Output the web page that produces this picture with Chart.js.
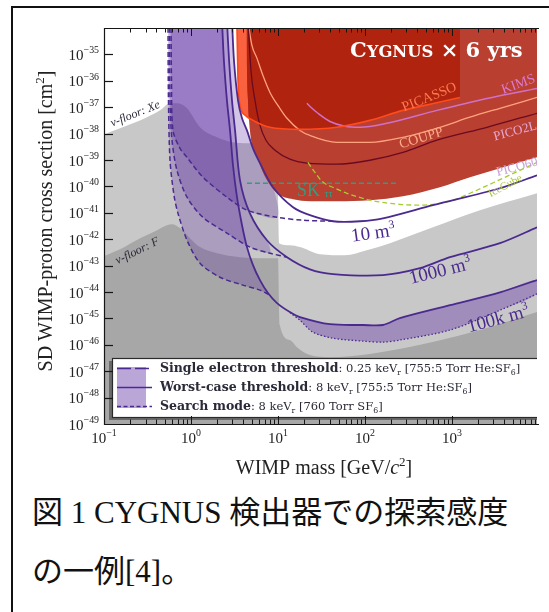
<!DOCTYPE html>
<html lang="ja"><head><meta charset="utf-8">
<script src="https://cdn.jsdelivr.net/npm/chart.js@4.4.1/dist/chart.umd.min.js"></script>
<style>
html,body{margin:0;padding:0;background:#fff;}
body{width:549px;height:612px;position:relative;overflow:hidden;}
#frame{position:absolute;left:11px;top:6px;width:620px;height:700px;border-top:2px solid #111;border-left:2px solid #111;box-sizing:border-box;}
#c{position:absolute;left:0;top:0;display:block;}
.cap{position:absolute;left:32px;margin:0;font-family:"Liberation Serif","Noto Sans CJK JP",serif;font-size:31px;line-height:31px;white-space:nowrap;color:#111;}
</style></head><body>
<div id="frame"></div>
<canvas id="c" width="549" height="490"></canvas>
<div class="cap" style="top:497px">図 1 CYGNUS 検出器での探索感度</div>
<div class="cap" style="top:556px">の一例[4]。</div>
<script>
// ---------- axis ranges / ticks ----------
const massRange = [0.1, 9500];                 // GeV/c^2 (figure is cropped at the right)
const sigmaRangeExp = [-49, -34];              // log10(cross section / cm^2)
const xTickDecades = [-1, 0, 1, 2, 3];
const yTickDecades = [-49, -48, -47, -46, -45, -44, -43, -42, -41, -40, -39, -38, -37, -36, -35];
const xTitleText = ['WIMP mass [GeV/', 'c', '2', ']'];
const yTitleText = ['SD WIMP-proton cross section [cm', '2', ']'];

// ---------- data: [mass GeV, log10 sigma(cm^2)] ----------
const xenonFloor = [[0.1,-38.03],[0.153,-37.80],[0.215,-37.61],[0.312,-37.38],[0.441,-37.12],[0.574,-36.85],[0.69,-36.85],[0.90,-37.04],[1.27,-37.76],[1.99,-38.14],[3.04,-38.33],[4.4,-38.37],[9.75,-38.37],[10.3,-42.15],[13.7,-42.23],[17.9,-42.30],[30.4,-42.57],[58.9,-42.61],[105,-42.42],[194,-42.15],[605,-41.55],[2100,-40.90],[9500,-40.26]];
const fluorineFloor = [[0.1,-42.64],[0.153,-42.38],[0.26,-41.96],[0.386,-41.70],[0.53,-41.47],[0.605,-41.43],[0.748,-41.58],[0.974,-41.96],[1.27,-42.30],[1.99,-42.53],[3.66,-42.68],[6.21,-42.72],[10.0,-42.72],[10.5,-45.25],[13.7,-45.82],[16.5,-46.09],[23.3,-46.39],[39.6,-46.47],[114,-46.35],[673,-45.86],[2100,-45.44],[9500,-44.76]];

const picassoLimit = [[3.36,-33.5],[3.47,-35.98],[3.66,-36.93],[4.18,-37.30],[5.44,-37.54],[8.09,-37.76],[17.9,-37.84],[47.6,-37.76],[114,-37.50],[273,-37.12],[559,-36.89],[1236,-36.63]];
const excludedEdge = [[4.35,-33.5],[4.40,-35.5],[4.52,-36.74],[4.76,-37.88],[5.16,-38.56],[5.74,-38.90],[6.55,-39.39],[7.47,-39.77],[9.75,-40.26],[14.9,-40.49],[23.3,-40.56],[47.6,-40.56],[114,-40.52],[273,-40.37],[728,-40.03],[1611,-39.65],[3565,-39.31],[9500,-38.90]];
const overlapEdge = [[4.35,-33.5],[4.40,-35.5],[4.52,-36.74],[4.62,-37.38],[5.44,-37.54],[8.09,-37.76],[17.9,-37.84],[47.6,-37.76],[114,-37.50],[273,-37.12],[559,-36.89],[1236,-36.63]];
const couppLimit = [[4.45,-33.6],[5.02,-34.66],[5.74,-35.15],[6.72,-35.80],[8.09,-36.44],[10.5,-37.04],[12.7,-37.42],[17.9,-37.88],[23.3,-38.07],[47.6,-38.33],[114,-38.33],[273,-38.14],[728,-37.76],[1611,-37.38],[3565,-37.04],[9500,-36.63]];
const kimsLimit = [[21.5,-36.85],[24.6,-37.04],[28.8,-37.23],[39.6,-37.54],[58.9,-37.72],[87.8,-37.76],[179,-37.61],[673,-37.12],[2524,-36.67],[9500,-36.29]];
const pico2lLimit = [[4.52,-33.7],[4.89,-35.61],[5.44,-36.74],[6.21,-37.69],[7.28,-38.25],[9.24,-38.63],[13.7,-38.97],[21.5,-39.12],[47.6,-39.16],[114,-39.01],[273,-38.71],[673,-38.25],[2524,-37.76],[9500,-37.23]];
const skTauTau = [[4.4,-39.88],[239,-39.88]];
const iceCube = [[22.1,-39.09],[26.6,-39.47],[32.1,-39.81],[45.2,-40.07],[62.1,-40.26],[114,-40.52],[252,-40.68],[429,-40.71],[949,-40.56],[1611,-40.26],[3855,-39.69],[9500,-39.09]];

const solid10 = [[2.96,-33.7],[3.12,-35.23],[3.47,-36.74],[3.86,-37.42],[4.40,-37.88],[5.16,-38.56],[6.21,-39.12],[8.77,-40.03],[14.9,-40.79],[23.3,-41.09],[42.9,-41.32],[87.8,-41.32],[161,-41.21],[605,-40.71],[3565,-40.07],[9500,-39.58]];
const solid1000 = [[2.59,-33.7],[2.74,-35.23],[2.96,-36.74],[3.21,-37.88],[3.66,-39.77],[4.76,-41.02],[7.47,-42.04],[12.7,-42.68],[23.3,-43.14],[42.9,-43.32],[161,-43.36],[429,-43.10],[949,-42.68],[3565,-42.15],[9500,-41.55]];
const solid100k = [[2.27,-33.7],[2.39,-35.23],[2.59,-36.74],[2.81,-37.88],[3.04,-39.20],[3.38,-40.41],[3.86,-41.47],[4.40,-42.30],[5.16,-42.98],[6.21,-43.55],[7.67,-44.04],[9.75,-44.42],[13.7,-44.76],[17.9,-44.95],[39.6,-45.22],[94.9,-45.25],[161,-45.25],[252,-44.99],[949,-44.50],[3565,-44.01],[9500,-43.55]];
const dashed10 = [[0.589,-33.7],[0.597,-35.98],[0.621,-37.88],[0.748,-38.56],[0.90,-38.90],[1.37,-39.65],[2.59,-40.41],[4.40,-40.90],[9.75,-41.17],[19.4,-41.28],[42.9,-41.32]];
const dashed1000 = [[0.567,-33.7],[0.574,-36.74],[0.605,-38.25],[0.690,-39.39],[0.90,-40.41],[1.37,-41.17],[2.59,-41.77],[4.76,-42.30],[8.09,-42.53],[12.7,-42.68]];
const dashed100k = [[0.544,-33.7],[0.551,-36.74],[0.574,-39.01],[0.638,-40.34],[0.709,-41.02],[0.90,-42.04],[1.27,-42.91],[2.15,-43.44],[3.96,-43.74],[6.21,-43.93],[8.09,-44.12]];
const search100k = [[13.7,-44.78],[17.9,-45.07],[25.2,-45.52],[42.9,-45.75],[94.9,-45.86],[161,-45.90],[252,-45.82],[949,-45.44],[3565,-44.69],[9500,-44.07]];
const bandShadeLimit = 10;   // GeV: low-mass threshold bands are shaded up to here

// ---------- text ----------
const legendNames = ['Single electron threshold', 'Worst-case threshold', 'Search mode'];
const legendDetails = [
  [': 0.25 keV', 'r', ' [755:5 Torr He:SF', '6', ']'],
  [': 8 keV', 'r', ' [755:5 Torr He:SF', '6', ']'],
  [': 8 keV', 'r', ' [760 Torr SF', '6', ']']
];
const purple = '#4b2a8f';
const supP = t => ({t, s: 0.62, dy: -0.42});
const plotLabels = [
  {parts:[{t:'C'},{t:'YGNUS',s:0.78},{t:' × 6 yrs'}], at:[67.3,-35.11], size:21, fam:'DejaVu Serif', style:'bold', color:'#ffffff', align:'left'},
  {parts:[{t:'PICASSO'}], at:[545,-36.59], rot:-22, size:14, color:'#ff7a50', align:'center'},
  {parts:[{t:'COUPP'}], at:[441,-38.14], rot:-17, size:14, color:'#ffab8a', align:'center'},
  {parts:[{t:'KIMS'}], at:[5740,-36.10], rot:-20, size:14, color:'#dc7ad2', align:'center'},
  {parts:[{t:'PICO2L'}], at:[5300,-37.88], rot:-15, size:13, color:'#e6a8d6', align:'center'},
  {parts:[{t:'PICO60'}], at:[5580,-39.24], rot:-15, size:13, color:'#c9a2da', align:'center'},
  {parts:[{t:'SK '},{t:'ττ',s:0.58,dy:0.02}], at:[16.5,-40.37], size:18, color:'#2f9e80', align:'left'},
  {parts:[{t:'IceCube'}], at:[4060,-39.96], rot:-28, size:11, color:'#a6c92e', align:'center'},
  {parts:[{t:'10 m'},supP('3')], at:[124,-41.74], rot:-8, size:19, color:purple, align:'center'},
  {parts:[{t:'1000 m'},supP('3')], at:[728,-43.17], rot:-14, size:19, color:purple, align:'center'},
  {parts:[{t:'100k m'},supP('3')], at:[3380,-44.99], rot:-15, size:19, color:purple, align:'center'},
  {parts:[{t:'ν-floor: Xe'}], at:[0.227,-37.23], rot:-22, size:12, style:'italic', color:'#2a2a3a', align:'center'},
  {parts:[{t:'ν-floor: F'}], at:[0.239,-42.42], rot:-26, size:12, style:'italic', color:'#2a2a3a', align:'center'}
];

// ---------- dataset building ----------
const P = arr => arr.map(([m, e]) => ({x: m, y: Math.pow(10, e)}));
function areaSet(data, color, fill, order, mono) {
  return {data: P(data), backgroundColor: color, borderColor: 'rgba(0,0,0,0)', borderWidth: 0, fill, order,
    pointRadius: 0, cubicInterpolationMode: mono ? 'monotone' : 'default', tension: 0.3};
}
function lineSet(data, color, width, dash, order, mono) {
  return {data: P(data), borderColor: color, backgroundColor: color, borderWidth: width, borderDash: dash || [], fill: false, order,
    pointRadius: 0, cubicInterpolationMode: mono ? 'monotone' : 'default', tension: 0.3};
}
function bandBetween(dashed, solid) {
  const d = dashed.filter(p => p[0] <= bandShadeLimit);
  const lastX = d[d.length - 1][0];
  return d.concat(solid.filter(p => p[0] < lastX).reverse());
}
const band10 = bandBetween(dashed10, solid10);
const band1000 = bandBetween(dashed1000, solid1000);
const band100k = bandBetween(dashed100k, solid100k);
const searchBand = solid100k.filter(p => p[0] >= search100k[0][0]).concat(search100k.slice().reverse());
const bandColor = 'rgba(90,40,160,0.27)';

const datasets = [
  areaSet(xenonFloor, '#c8c8c8', 'start', 100, true),
  areaSet(fluorineFloor, '#a7a7a7', 'start', 99, true),
  areaSet(band100k, bandColor, 'shape', 96, false),
  areaSet(band1000, bandColor, 'shape', 95, false),
  areaSet(band10, bandColor, 'shape', 94, false),
  areaSet(searchBand, 'rgba(105,60,170,0.42)', 'shape', 93, false),
  areaSet(picassoLimit, '#f9613f', 'end', 90, true),
  areaSet(excludedEdge, '#b93f30', 'end', 89, true),
  areaSet(overlapEdge, '#b0230f', 'end', 88, true),
  lineSet(couppLimit, '#ffa27e', 1.3, null, 50, true),
  lineSet(kimsLimit, '#d070c8', 1.5, null, 49, true),
  lineSet(pico2lLimit, '#6a0a22', 1.3, null, 48, true),
  lineSet(picassoLimit, '#ff4a1a', 1.6, null, 47, true),
  lineSet(skTauTau, '#2f9e80', 1.3, [5, 3], 46, true),
  lineSet(iceCube, '#a5cc2e', 1.3, [5, 3], 45, true),
  lineSet(search100k, purple, 1.3, [1.5, 2], 13, false),
  lineSet(dashed10, purple, 1.5, [5, 3], 12, false),
  lineSet(dashed1000, purple, 1.5, [5, 3], 12, false),
  lineSet(dashed100k, purple, 1.5, [5, 3], 12, false),
  lineSet(solid10, purple, 1.8, null, 11, false),
  lineSet(solid1000, purple, 1.8, null, 11, false),
  lineSet(solid100k, purple, 1.8, null, 11, false)
];

// ---------- drawing helpers ----------
function rich(ctx, parts, x, y, o) {
  const fam = o.fam || 'Liberation Serif';
  const fontOf = p => (`${p.style !== undefined ? p.style : (o.style || '')} ${(o.size * (p.s || 1)).toFixed(2)}px "${p.fam || fam}"`).trim();
  let w = 0;
  for (const p of parts) { ctx.font = fontOf(p); w += ctx.measureText(p.t).width; }
  ctx.save();
  ctx.translate(x, y);
  if (o.rot) ctx.rotate(o.rot * Math.PI / 180);
  ctx.fillStyle = o.color || '#222';
  ctx.textAlign = 'left'; ctx.textBaseline = 'alphabetic';
  let cx = o.align === 'center' ? -w / 2 : (o.align === 'right' ? -w : 0);
  const by = (o.align === 'center' && !o.baseline) ? o.size * 0.34 : 0;
  for (const p of parts) {
    ctx.font = fontOf(p);
    ctx.fillText(p.t, cx, by + (p.dy || 0) * o.size);
    cx += ctx.measureText(p.t).width;
  }
  ctx.restore();
  return w;
}
const expStr = d => (d < 0 ? '\u2212' + (-d) : String(d));

function drawLegend(ctx, a) {
  const L = a.left + 8, T = a.top + 330, B = a.bottom - 7, R = a.right + 30;
  ctx.save();
  ctx.fillStyle = '#6a6a6a';
  ctx.fillRect(L - 3, T + 3, R - L, B - T);
  ctx.fillStyle = '#ffffff';
  ctx.fillRect(L, T, R - L, B - T);
  ctx.strokeStyle = '#2a2a2a'; ctx.lineWidth = 1.2;
  ctx.strokeRect(L + 0.5, T + 0.5, R - L, B - T);
  ctx.fillStyle = '#bba6d8';
  ctx.fillRect(L + 5, T + 9, 29, 41);
  const dashes = [[14, 4], [], [4, 2.5]];
  legendNames.forEach((name, i) => {
    const yy = T + 10 + i * 19;
    ctx.setLineDash(dashes[i]);
    ctx.strokeStyle = purple; ctx.lineWidth = 1.6;
    ctx.beginPath(); ctx.moveTo(L + 5, yy + 0.5); ctx.lineTo(L + 40, yy + 0.5); ctx.stroke();
    ctx.setLineDash([]);
    const d = legendDetails[i];
    rich(ctx, [
      {t: name, style: 'bold'},
      {t: d[0], style: '', s: 0.92},
      {t: d[1], style: '', s: 0.62, dy: 0.22},
      {t: d[2], style: '', s: 0.92},
      {t: d[3], style: '', s: 0.62, dy: 0.22},
      {t: d[4], style: '', s: 0.92}
    ], L + 48, yy + 4, {size: 12.5, fam: 'DejaVu Serif', color: '#2a2a38', align: 'left'});
  });
  ctx.restore();
}

const decor = {
  id: 'decor',
  afterDatasetsDraw(chart) {
    const {ctx, chartArea: a, scales: {x, y}} = chart;
    ctx.save();
    ctx.beginPath(); ctx.rect(a.left, a.top, a.right - a.left, a.bottom - a.top); ctx.clip();
    for (const lb of plotLabels) {
      rich(ctx, lb.parts, x.getPixelForValue(lb.at[0]), y.getPixelForValue(Math.pow(10, lb.at[1])), lb);
    }
    drawLegend(ctx, a);
    ctx.restore();

    ctx.save();
    ctx.setLineDash([]);
    ctx.strokeStyle = '#151515'; ctx.lineWidth = 1.2;
    ctx.beginPath();
    ctx.moveTo(a.right + 2, a.top + 0.5); ctx.lineTo(a.left + 0.5, a.top + 0.5);
    ctx.lineTo(a.left + 0.5, a.bottom + 0.5); ctx.lineTo(a.right + 2, a.bottom + 0.5);
    ctx.stroke();
    ctx.lineWidth = 1;
    for (const d of xTickDecades) {
      for (let k = 1; k <= 9; k++) {
        const v = k * Math.pow(10, d);
        if (v > massRange[1]) continue;
        const px = Math.round(x.getPixelForValue(v)) + 0.5;
        const len = k === 1 ? 8 : 4.5;
        ctx.beginPath();
        ctx.moveTo(px, a.bottom); ctx.lineTo(px, a.bottom - len);
        ctx.moveTo(px, a.top); ctx.lineTo(px, a.top + len);
        ctx.stroke();
      }
    }
    ctx.lineWidth = 1.2;
    for (const e of yTickDecades) {
      if (e === sigmaRangeExp[0]) continue;
      const py = Math.round(y.getPixelForValue(Math.pow(10, e))) + 0.5;
      ctx.beginPath(); ctx.moveTo(a.left, py); ctx.lineTo(a.left + 9, py); ctx.stroke();
    }
    ctx.restore();

    for (const d of xTickDecades) {
      const px = x.getPixelForValue(Math.pow(10, d));
      rich(ctx, [{t: '10'}, {t: expStr(d), s: 0.66, dy: -0.45}], px, a.bottom + 19,
        {size: 15, color: '#222', align: 'center', baseline: true});
    }
    for (const e of yTickDecades) {
      const py = y.getPixelForValue(Math.pow(10, e));
      rich(ctx, [{t: '10'}, {t: expStr(e), s: 0.66, dy: -0.45}], a.left - 5, py + 5.5,
        {size: 15, color: '#222', align: 'right'});
    }
    rich(ctx, [{t: xTitleText[0]}, {t: xTitleText[1], style: 'italic'}, {t: xTitleText[2], s: 0.65, dy: -0.42}, {t: xTitleText[3]}],
      a.left + 220, a.bottom + 50, {size: 20, color: '#222', align: 'center', baseline: true});
    rich(ctx, [{t: yTitleText[0]}, {t: yTitleText[1], s: 0.65, dy: -0.42}, {t: yTitleText[2]}],
      52, a.top + 193, {size: 20, color: '#222', align: 'center', baseline: true, rot: -90});
  }
};

new Chart(document.getElementById('c'), {
  type: 'line',
  data: {datasets},
  options: {
    responsive: false,
    animation: false,
    events: [],
    layout: {padding: {left: 0, top: 28, right: 12, bottom: 0}},
    plugins: {legend: {display: false}, tooltip: {enabled: false}, filler: {propagate: false}},
    scales: {
      x: {type: 'logarithmic', position: 'bottom', min: massRange[0], max: massRange[1],
        ticks: {display: false}, grid: {display: false, drawTicks: false}, border: {display: false},
        afterFit(s) { s.height = 66; }},
      y: {type: 'logarithmic', position: 'left', min: Math.pow(10, sigmaRangeExp[0]), max: Math.pow(10, sigmaRangeExp[1]),
        ticks: {display: false}, grid: {display: false, drawTicks: false}, border: {display: false},
        afterFit(s) { s.width = 104; }}
    }
  },
  plugins: [decor]
});
</script>
</body></html>
